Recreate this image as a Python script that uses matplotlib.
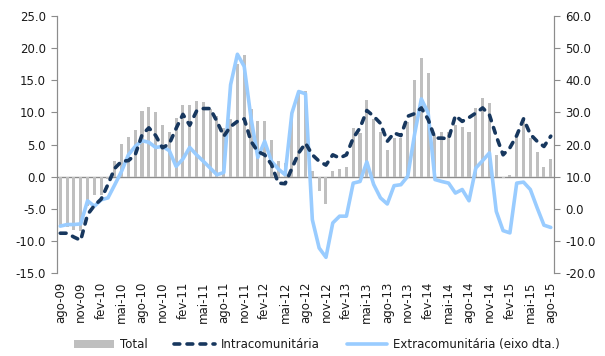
import matplotlib
matplotlib.use("Agg")
import matplotlib.pyplot as plt
import numpy as np
from matplotlib.ticker import FormatStrFormatter

# monthly series, ago-09 .. ago-15
total = [-7.5, -7.8, -8.3, -8.5, -4.6, -2.8, -2.8, -0.3, 2.4, 5.1, 6.1, 7.3,
         10.2, 10.8, 10.0, 8.0, 7.0, 9.2, 11.2, 11.2, 11.8, 11.6, 10.5, 9.5,
         7.5, 9.0, 17.5, 19.0, 10.6, 8.6, 8.6, 5.7, 2.5, 2.2, 9.5, 13.2,
         13.4, 0.9, -2.3, -4.2, 0.9, 1.2, 1.5, 7.5, 6.8, 12.0, 8.9, 6.9,
         4.2, 6.0, 6.0, 8.5, 15.1, 18.5, 16.1, 6.5, 6.9, 7.0, 8.1, 7.7,
         7.0, 10.7, 12.3, 11.4, 3.3, -0.2, 0.2, 6.3, 8.6, 6.0, 3.8, 1.5,
         2.8]

intra = [-8.8, -8.8, -9.4, -9.9, -5.9, -4.5, -3.5, -1.2, 1.3, 2.4, 2.5, 3.4,
         6.5, 7.6, 6.4, 4.5, 5.1, 7.5, 9.7, 8.0, 10.2, 10.6, 10.6, 8.6,
         6.3, 7.8, 8.6, 9.0, 5.5, 3.9, 3.4, 1.9, -1.0, -1.1, 1.3, 3.7,
         5.2, 3.4, 2.4, 1.8, 3.4, 2.9, 3.4, 6.0, 7.6, 10.3, 9.4, 8.3,
         5.5, 6.8, 6.4, 9.4, 9.8, 10.7, 8.9, 6.0, 6.0, 5.9, 9.5, 8.6,
         9.2, 9.9, 10.7, 9.6, 6.3, 3.4, 4.5, 6.4, 9.0, 6.6, 5.5, 4.7,
         6.3]

# right-hand axis
extra = [-5.4, -4.9, -4.9, -4.7, 2.5, 0.8, 2.8, 3.4, 7.5, 11.7, 16.8, 19.4,
         21.2, 20.7, 19.1, 19.4, 18.1, 13.2, 15.5, 19.1, 16.8, 14.8, 12.7, 10.6,
         11.3, 38.6, 48.1, 44.3, 28.2, 16.0, 21.0, 14.8, 12.4, 10.6, 29.8, 36.5,
         35.8, -3.4, -12.2, -15.1, -4.4, -2.3, -2.3, 8.0, 8.5, 14.6, 7.6, 3.4,
         1.5, 7.2, 7.5, 10.1, 23.1, 34.2, 29.8, 9.1, 8.5, 8.0, 4.9, 6.0,
         2.5, 12.7, 15.0, 17.4, -0.8, -6.8, -7.5, 8.0, 8.3, 6.0, 0.3, -5.1,
         -5.8]

tick_labels = ["ago-09", "nov-09", "fev-10", "mai-10", "ago-10", "nov-10",
               "fev-11", "mai-11", "ago-11", "nov-11", "fev-12", "mai-12",
               "ago-12", "nov-12", "fev-13", "mai-13", "ago-13", "nov-13",
               "fev-14", "mai-14", "ago-14", "nov-14", "fev-15", "mai-15",
               "ago-15"]

GRAY = "#BFBFBF"
NAVY = "#17375E"
LIGHT = "#99CCFF"
AXIS = "#8C8C8C"
TXT = "#1A1A1A"
FS = 8.5

fig = plt.figure(figsize=(6.05, 3.56), dpi=100)
ax1 = fig.add_axes([0.094, 0.233, 0.822, 0.722])
ax2 = ax1.twinx()

x = np.arange(len(total))
bars = ax1.bar(x, total, width=0.45, color=GRAY, zorder=2, label="Total")
ax1.axhline(0, color=AXIS, lw=1, zorder=1)

line_ext, = ax2.plot(x, extra, color=LIGHT, lw=2.6, solid_capstyle="round",
                     label="Extracomunitária (eixo dta.)")
# dashed series uses the left scale but is drawn above the right-axis line
line_int, = ax2.plot(x, intra, color=NAVY, lw=2.6, transform=ax1.transData,
                     dashes=(1.6, 2.0), dash_capstyle="round",
                     label="Intracomunitária")

ax1.set_xlim(-0.5, len(total) - 0.5)
ax1.set_ylim(-15, 25)
ax1.set_yticks(np.arange(-15, 26, 5))
ax2.set_ylim(-20, 60)
ax2.set_yticks(np.arange(-20, 61, 10))
ax1.yaxis.set_major_formatter(FormatStrFormatter("%.1f"))
ax2.yaxis.set_major_formatter(FormatStrFormatter("%.1f"))

ax1.set_xticks(np.arange(0, len(total), 3))
ax1.set_xticklabels(tick_labels, rotation=90)

for ax in (ax1, ax2):
    ax.spines["top"].set_visible(False)
    ax.spines["bottom"].set_visible(False)
    ax.spines["left"].set_color(AXIS)
    ax.spines["right"].set_color(AXIS)
    ax.tick_params(axis="y", length=4, color=AXIS, labelsize=FS,
                   labelcolor=TXT, pad=4)
ax1.tick_params(axis="x", length=0, labelsize=FS, labelcolor=TXT, pad=6)

fig.legend([bars, line_int, line_ext],
           ["Total", "Intracomunitária", "Extracomunitária (eixo dta.)"],
           loc="center", bbox_to_anchor=(0.523, 0.031), ncol=3,
           frameon=False, fontsize=FS, handlelength=3.4, handletextpad=0.5,
           columnspacing=2.3, labelcolor=TXT)

fig.savefig("out.png", dpi=100)
